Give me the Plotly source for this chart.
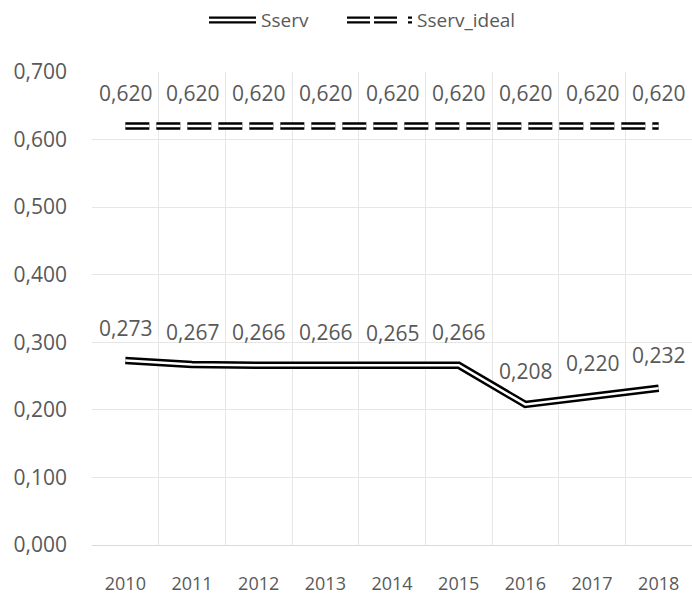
import plotly.graph_objects as go

years = ["2010", "2011", "2012", "2013", "2014", "2015", "2016", "2017", "2018"]
sserv = [0.273, 0.267, 0.266, 0.266, 0.265, 0.266, 0.208, 0.220, 0.232]
sserv_ideal = [0.620, 0.620, 0.620, 0.620, 0.620, 0.620, 0.620, 0.620, 0.620]
y_ticks = [0.0, 0.1, 0.2, 0.3, 0.4, 0.5, 0.6, 0.7]

FONT = "Open Sans"
GRAY = "#595959"
DASH = "24px,7px"
BW, WW = 7.5, 2.5

x = list(range(len(years)))
fig = go.Figure()

for vals, dash in [(sserv_ideal, DASH), (sserv, "solid")]:
    fig.add_trace(go.Scatter(x=x, y=vals, mode="lines",
                             line=dict(color="black", width=BW, dash=dash),
                             showlegend=False, hoverinfo="skip"))
    fig.add_trace(go.Scatter(x=x, y=vals, mode="lines",
                             line=dict(color="white", width=WW, dash=dash),
                             showlegend=False, hoverinfo="skip"))

def fmt(v):
    return f"{v:.3f}".replace(".", ",")

annotations = []
for vals in (sserv, sserv_ideal):
    for xi, v in zip(x, vals):
        annotations.append(dict(x=xi, y=v, xref="x", yref="y", text=fmt(v),
                                showarrow=False, yshift=33,
                                font=dict(family=FONT, size=21, color=GRAY)))

# manual legend (plot area: x 92..692 px, y 72..545 px)
L, W, T, H = 92, 600, 72, 473
def px(xp):
    return (xp - L) / W
def py(yp):
    return (T + H - yp) / H

ly = 20
shapes = []
for dash, x0, x1, dpat in [("solid", 209, 256, "solid"), (DASH, 347, 412, "23px,4px,23px,11px")]:
    for col, w in [("black", 7), ("white", 2.3)]:
        shapes.append(dict(type="line", xref="paper", yref="paper",
                           x0=px(x0), x1=px(x1), y0=py(ly), y1=py(ly),
                           line=dict(color=col, width=w, dash=dpat)))
annotations.append(dict(x=px(259), y=py(ly), xref="paper", yref="paper",
                        text="Sserv", showarrow=False, xanchor="left", yanchor="middle",
                        font=dict(family=FONT, size=19, color=GRAY)))
annotations.append(dict(x=px(415), y=py(ly), xref="paper", yref="paper",
                        text="Sserv_ideal", showarrow=False, xanchor="left", yanchor="middle",
                        font=dict(family=FONT, size=19, color=GRAY)))

fig.update_layout(
    width=692, height=594,
    margin=dict(l=L, r=0, t=T, b=594 - T - H, pad=0),
    paper_bgcolor="white", plot_bgcolor="white",
    separators=",.",
    showlegend=False,
    annotations=annotations,
    shapes=shapes,
    xaxis=dict(range=[-0.5, len(years) - 0.5], tickvals=x, ticktext=years,
               showgrid=False, zeroline=False, showline=True,
               linecolor="#d9d9d9", linewidth=1,
               ticks="", ticklabelstandoff=22, automargin=False,
               tickfont=dict(family=FONT, size=18, color=GRAY),
               minor=dict(tickvals=[i - 0.5 for i in range(len(years) + 1)],
                          showgrid=True, gridcolor="#e6e6e6", gridwidth=1, ticks="")),
    yaxis=dict(range=[0, 0.7], tickvals=y_ticks, tickformat=".3f",
               showgrid=True, gridcolor="#e6e6e6", gridwidth=1,
               zeroline=False, showline=False, ticks="", automargin=False,
               ticklabelstandoff=24,
               tickfont=dict(family=FONT, size=21, color=GRAY)),
)

fig.write_html("out.html", config={"displayModeBar": False},
               post_script="document.body.style.margin='0';document.body.style.overflow='hidden';")
